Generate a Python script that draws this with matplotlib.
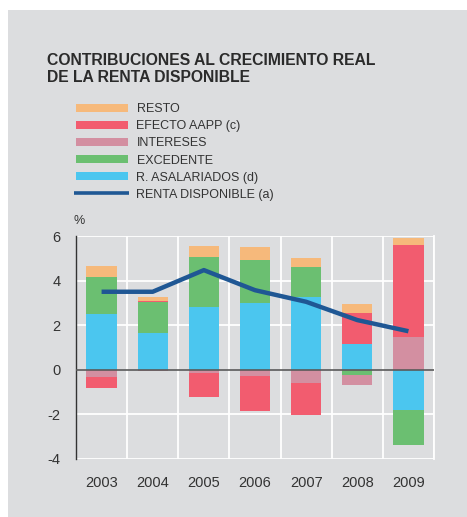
import matplotlib
matplotlib.use('Agg')
import matplotlib.pyplot as plt
import numpy as np
from matplotlib.patches import Rectangle
from matplotlib.lines import Line2D

years = ['2003', '2004', '2005', '2006', '2007', '2008', '2009']

# contribuciones (pp)
asalariados = [2.48, 1.63, 2.80, 2.98, 3.25, 1.15, -1.81]
excedente = [1.66, 1.39, 2.25, 1.94, 1.35, -0.24, -1.58]
intereses = [-0.34, -0.04, -0.15, -0.27, -0.58, -0.43, 1.47]
efecto_aapp = [-0.49, 0.08, -1.09, -1.57, -1.45, 1.39, 4.12]
resto = [0.52, 0.15, 0.50, 0.60, 0.42, 0.41, 0.30]
renta_disponible = [3.50, 3.50, 4.47, 3.57, 3.05, 2.23, 1.73]

series = [
    ('R. ASALARIADOS (d)', asalariados, '#4bc6ef'),
    ('EXCEDENTE', excedente, '#6bbf71'),
    ('INTERESES', intereses, '#d38fa1'),
    ('EFECTO AAPP (c)', efecto_aapp, '#f25c6f'),
    ('RESTO', resto, '#f6b97b'),
]
line_color = '#1f5794'
bg = '#dcdddf'
txt = '#2b2b2b'

plt.rcParams['font.family'] = ['Liberation Sans', 'DejaVu Sans']

W, H = 467, 517
fig = plt.figure(figsize=(W / 100, H / 100), dpi=100)
fig.patch.set_facecolor('white')


def fx(x):
    return x / W


def fy(y):
    return 1 - y / H


# fondo gris del recuadro
fig.patches.append(Rectangle((fx(8), 0), 1 - fx(8), fy(10), transform=fig.transFigure,
                             facecolor=bg, edgecolor='none', zorder=-5))

# titulo
fig.text(fx(47), fy(60.5), 'CONTRIBUCIONES AL CRECIMIENTO REAL', fontsize=11.3,
         fontweight='bold', color=txt, va='center', ha='left')
fig.text(fx(47), fy(78), 'DE LA RENTA DISPONIBLE', fontsize=11.3,
         fontweight='bold', color=txt, va='center', ha='left')

# leyenda manual
for i, (name, _, col) in enumerate(reversed(series)):
    yc = 107.7 + i * 17.1
    fig.patches.append(Rectangle((fx(76), fy(yc + 3.8)), fx(52), 7.6 / H,
                                 transform=fig.transFigure, facecolor=col, edgecolor='none'))
    fig.text(fx(136.5), fy(yc + 4.5), name, fontsize=9, color='#333333', va='baseline')
yc = 107.7 + 5 * 17.1
fig.lines.append(Line2D([fx(74), fx(129)], [fy(yc), fy(yc)], transform=fig.transFigure,
                        color=line_color, lw=2.6, solid_capstyle='butt'))
fig.text(fx(136.5), fy(yc + 4.5), 'RENTA DISPONIBLE (a)', fontsize=9, color='#333333', va='baseline')

ax = fig.add_axes([fx(76), fy(459), fx(434) - fx(76), fy(236) - fy(459)])
ax.set_facecolor(bg)

x = np.arange(len(years))
pos_base = np.zeros(len(years))
neg_base = np.zeros(len(years))
for name, vals, col in series:
    v = np.array(vals)
    base = np.where(v >= 0, pos_base, neg_base)
    ax.bar(x, v, bottom=base, width=0.59, color=col, edgecolor='none', zorder=2)
    pos_base += np.where(v >= 0, v, 0)
    neg_base += np.where(v < 0, v, 0)

ax.plot(x, renta_disponible, color=line_color, lw=3.2, zorder=4, solid_capstyle='butt')
ax.axhline(0, color='#5a5a5a', lw=1.2, zorder=3)

ax.set_xlim(-0.5, len(years) - 0.5)
ax.set_ylim(-4, 6)
ax.set_yticks([-4, -2, 0, 2, 4, 6])
ax.set_yticklabels(['-4', '-2', '0', '2', '4', '6'])
ax.set_xticks(x)
ax.set_xticklabels(years)

# rejilla blanca: horizontales en ticks, verticales entre años
for yv in [-4, -2, 2, 4, 6]:
    ax.axhline(yv, color='white', lw=1.3, zorder=1)
for xv in np.arange(0.5, len(years), 1.0):
    ax.axvline(xv, color='white', lw=1.3, zorder=1)

ax.tick_params(axis='both', length=0, labelsize=10.5, labelcolor='#333333')
ax.tick_params(axis='y', pad=11)
ax.tick_params(axis='x', pad=12)
for s in ['top', 'bottom']:
    ax.spines[s].set_visible(False)
ax.spines['right'].set_color('white')
ax.spines['right'].set_linewidth(1.3)
ax.spines['left'].set_color('#333333')
ax.spines['left'].set_linewidth(1.0)

fig.text(fx(79), fy(221), '%', fontsize=9, color='#333333', ha='center', va='center')

fig.savefig('out.png', dpi=100, facecolor=fig.get_facecolor())
